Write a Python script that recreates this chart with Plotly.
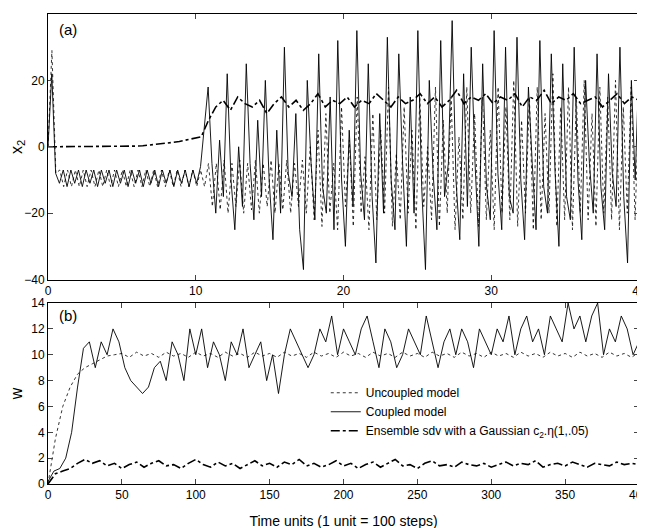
import plotly.graph_objects as go
import numpy as np

# Panel (a): x2 vs time units (even spacing over 0-40)
a_coupled = [0, 22, -8, -11, -7, -12, -7, -11, -7, -12, -7, -11, -7, -12, -7, -11, -7, -12, -7, -11,
             -7, -12, -7, -11, -7, -12, -7, -11, -7, -12, -7, -11, -7, -12, -7, -11, -7, -12, -7, -11,
             -6, 5, 18, -5, -20, 2, -15, 22, -10, -25, 0, -18, 25, -5, -22, 8, -15, 20, -10, -28,
             5, -20, 30, -8, -15, 10, -25, -37, 20, -5, -22, 28, -12, -20, 15, -25, 32, -10, -30, 5,
             -18, 35, -8, -22, 25, -15, -35, 10, -20, 33, -10, -25, 28, -5, -30, 15, -20, 35, -12, -37,
             20, -8, -25, 32, -15, -5, 38, -10, -28, 22, -18, 30, -5, -30, 25, -12, -22, 35, -8, -25,
             30, -15, -20, 33, -10, -28, 18, -5, -25, 32, -12, -20, 28, -8, -30, 25, -15, -22, 30, -10,
             -28, 20, -5, -20, 28, -12, -25, 22, -8, -18, 30, -15, -35, 20, -10, 25]
a_uncoupled = [0, 29, -8, -7, -12, -7, -12, -7, -12, -7, -12, -7, -12, -7, -12, -7, -12, -7, -12, -7,
               -12, -7, -12, -7, -12, -7, -12, -7, -12, -7, -12, -7, -12, -7, -12, -7, -12, -7, -12, -7,
               -12, -5, -18, -5, -19, -4, -20, -5, -18, -4, -20, -5, -19, -4, -20, -5, -18, -4, -20, -5,
               -19, -4, -20, -5, -18, -4, -20, 0, -22, 5, -24, 10, -20, -5, -25, 12, -18, 2, -24, 15,
               -20, -3, -25, 10, -22, 5, -20, 18, -24, -2, -22, 12, -20, 5, -25, 15, -18, 0, -22, 18,
               -24, 8, -20, 15, -25, 3, -22, 18, -20, 10, -24, 15, -22, 5, -25, 18, -20, 12, -22, 20,
               -24, 8, -20, 15, -25, 18, -22, 10, -20, 22, -24, 12, -22, 18, -25, 15, -20, 20, -22, 10,
               -24, 18, -20, 15, -22, 20, -25, 12, -20, 18, -22, 15]
a_ensemble = [0, 0, 0, 0, 0, 0, 0, 0, 0, 0, 0, 0, 0.2, 0.3, 0.5, 0.7, 1, 1.3, 1.6, 2, 2.5, 3,
              8, 12, 14, 11, 15, 13, 12, 14, 10, 13, 15, 12, 14, 11, 13, 16, 12, 14, 13, 15, 12, 14,
              13, 16, 14, 12, 15, 13, 14, 16, 13, 15, 12, 14, 17, 13, 15, 14, 16, 13, 15, 14, 16, 12,
              15, 14, 17, 13, 15, 14, 16, 13, 14, 15, 12, 14, 16, 13, 15, 14]

# Panel (b): w vs time units (even spacing over 0-400)
b_coupled = [0.2, 1, 1.2, 2, 4, 7.5, 10.5, 11, 9, 11, 10, 12, 11, 9, 8, 7.5, 7, 7.5, 9, 9.5,
             8, 11, 10, 8, 12, 10, 12, 9, 11, 10, 8, 11, 10, 12, 9, 10, 11, 8, 10, 7,
             10, 12, 11, 10, 9, 10, 12, 11, 13, 10, 12, 11, 10, 12, 13, 11, 9, 12, 11, 9,
             10, 12, 11, 10, 13, 11, 9, 11, 12, 10, 12, 11, 9, 12, 11, 10, 12, 11, 13, 10,
             12, 13, 11, 12, 10, 13, 12, 11, 14, 12, 13, 11, 13, 14, 10, 12, 11, 13, 12, 10, 11]
b_uncoupled = [0, 3.5, 6, 7.5, 8.5, 9, 9.3, 9.6, 9.9, 10, 10.1, 9.8, 10.2, 9.9, 10.1, 9.8, 10.2, 9.9,
               10.1, 9.8, 10.2, 9.9, 10.1, 9.8, 10.2, 9.9, 10.1, 9.8, 10.2, 9.9, 10.1, 9.8, 10.2, 9.9,
               10.1, 9.8, 10.2, 9.9, 10.1, 9.8, 10.2, 9.9, 10.1, 9.8, 10.2, 9.9, 10.1, 9.8, 10.2, 9.9,
               10.1, 9.8, 10.2, 9.9, 10.1, 9.8, 10.2, 9.9, 10.1, 9.8, 10.2, 9.9, 10.1, 9.8, 10.2, 9.9,
               10.1, 9.8, 10.2, 9.9, 10.1, 9.8, 10.2, 9.9, 10.1, 9.8, 10.2, 9.9, 10.1, 9.8, 10.2]
b_ensemble = [0, 0.8, 1.0, 1.2, 1.6, 1.9, 1.6, 1.8, 1.4, 1.6, 1.2, 1.5, 1.7, 1.3, 1.6, 1.8, 1.4,
              1.5, 1.2, 1.6, 1.9, 1.5, 1.3, 1.7, 1.4, 1.6, 1.2, 1.5, 1.8, 1.4, 1.6, 1.3, 1.7, 1.5,
              1.9, 1.4, 1.6, 1.3, 1.5, 1.8, 1.4, 1.6, 1.2, 1.5, 1.7, 1.3, 1.6, 1.9, 1.4, 1.5, 1.2,
              1.6, 1.8, 1.4, 1.5, 1.3, 1.7, 1.5, 1.4, 1.6, 1.3, 1.5, 1.7, 1.4, 1.6, 1.5, 1.8, 1.3,
              1.5, 1.6, 1.4, 1.7, 1.5, 1.3, 1.6, 1.5, 1.4, 1.7, 1.5, 1.6, 1.5]

def tline(vals, end):
    return np.linspace(0, end, len(vals))

fig = go.Figure()
# panel (a)
fig.add_trace(go.Scatter(x=tline(a_uncoupled, 40), y=a_uncoupled, mode='lines',
                         line=dict(color='black', width=0.8, dash='dot'), showlegend=False))
fig.add_trace(go.Scatter(x=tline(a_coupled, 40), y=a_coupled, mode='lines',
                         line=dict(color='black', width=0.9), showlegend=False))
fig.add_trace(go.Scatter(x=tline(a_ensemble, 40), y=a_ensemble, mode='lines',
                         line=dict(color='black', width=1.6, dash='dashdot'), showlegend=False))
# panel (b)
fig.add_trace(go.Scatter(x=tline(b_uncoupled, 400), y=b_uncoupled, mode='lines', name='Uncoupled model',
                         line=dict(color='black', width=0.8, dash='dot'), xaxis='x2', yaxis='y2'))
fig.add_trace(go.Scatter(x=tline(b_coupled, 400), y=b_coupled, mode='lines', name='Coupled model',
                         line=dict(color='black', width=0.9), xaxis='x2', yaxis='y2'))
fig.add_trace(go.Scatter(x=tline(b_ensemble, 400), y=b_ensemble, mode='lines',
                         name='Ensemble sdv with a Gaussian c<sub>2</sub>.η(1,.05)',
                         line=dict(color='black', width=1.6, dash='dashdot'), xaxis='x2', yaxis='y2'))

ax = dict(showline=True, linecolor='black', mirror='ticks', ticks='inside', ticklen=5,
          showgrid=False, zeroline=False, automargin=False,
          tickfont=dict(size=12, color='black'))
fig.update_layout(
    width=645, height=528,
    margin=dict(l=40, r=14, t=6, b=52),
    plot_bgcolor='white', paper_bgcolor='white',
    font=dict(family='Liberation Sans, Arial', color='black', size=13),
    xaxis=dict(ax, domain=[0, 1], range=[0, 40], dtick=10, anchor='y'),
    yaxis=dict(ax, domain=[0.435, 1], range=[-40, 40], dtick=20,
               title=dict(text='x<sub>2</sub>', standoff=4)),
    xaxis2=dict(ax, domain=[0, 1], range=[0, 400], dtick=50, anchor='y2',
                title=dict(text='Time units (1 unit = 100 steps)', font=dict(size=14), standoff=14)),
    yaxis2=dict(ax, domain=[0, 0.385], range=[0, 14], dtick=2, anchor='x2',
                title=dict(text='w', standoff=4)),
    legend=dict(x=0.47, y=0.225, xanchor='left', yanchor='top', bgcolor='rgba(0,0,0,0)',
                font=dict(size=12), tracegroupgap=0),
    annotations=[
        dict(text='(a)', x=0.015, y=0.99, xref='paper', yref='paper', xanchor='left',
             yanchor='top', showarrow=False, font=dict(size=15)),
        dict(text='(b)', x=0.015, y=0.38, xref='paper', yref='paper', xanchor='left',
             yanchor='top', showarrow=False, font=dict(size=15)),
    ],
)
fig.write_html("out.html")
